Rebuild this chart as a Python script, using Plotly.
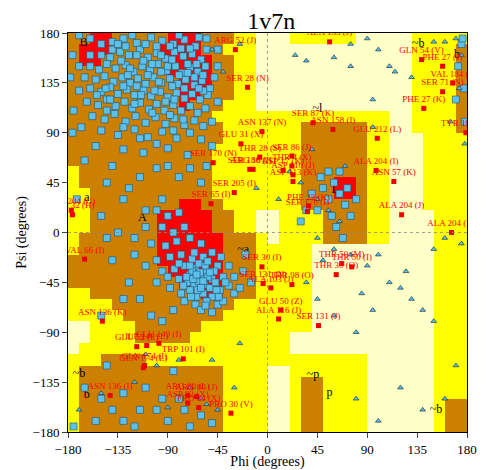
import plotly.graph_objects as go

# region grid, 10 degree cells, rows psi 170 .. -180, cols phi -180 .. 170
# . = outside, y = generous, o = allowed, r = core
grid_left = [
    "oorrooooorrroooyy", "orrroooorrrrooyyy", "orroooooorrrrooyy",
    "ooooooooorrrrooyy", "oooooooooorrrooyy", "oooooooooorroooyy",
    "ooooooooooroooyyy", "oooooooooooooyyyy", "ooooooooooooooyyy",
    "ooooooooooooooyyy", "oooooooooooooyyyy", "oooooooooooooyyyy",
    "yooooooooooooyyyy", "yooooooooooooyyyy", "yyoooooooooooyyyy",
    "yyoooooooorrooyyy", "yyoooooorrrrrooyy", "yyoooooorrrrrooyy",
    "yooooooorrrrrrooo", "yooooooorrrrrrooo", "oooooooorrrrrrooo",
    "ooooooooorrrrrooo", "oooooooooorrrrooo", "yyoooooooooorrooo",
    "yyyyoooooooooooyy", "yyyyyoooooooooyyy", "..yyyyooooooyyyyy",
    "..yyyyoooooyyyyyy", ".yyyyyyyyyyyyyyyy", "yyyooooyyyyyyyyyy",
    "yoooooooooooooyyy", "yoooooooooooooyyy", "yoooooooooooooyyy",
    "yoooooooooooooyyy", "yoooooooooooooyyy", "yoooooooooooooyyy",
]
grid_right = [
    "...yyyyyy.....yyyyy", "..............yyyyo", "..............yyyyo",
    "..............yyyyo", "..............yyyyo", "..............yyyyo",
    "..............yyyyo", "yyyyyyyyyyyy..yyyyo", "yyyyooooooyy..yyyyo",
    "yyyyooooooyy...yyyy", "yyyyooooooyy...yyyy", "yyyyooooooyy...yyyy",
    "yyyyooooooyy...yyyy", "yyyyooorroyy...yyyy", "yyyyooorroyy...yyyy",
    "yyyyooooooyy...yyyy", "..yyyyooooyy....yyy", "..yyyyooooyy....yyy",
    "y.yyyyooooyy....yyy", "yyyyy...........yyy", "yyyyy...........yyy",
    "yyyyy...........yyy", "yyyyy...........yyy", "yyyyy...........yyy",
    "yyyyy...........yyy", "yyyyy...........yyy", "yyyyy...........yyy",
    "yyy.............yyy", "yyy.............yyy", "yyyyyyyyyy......yyy",
    "y..yyyyyyy......yyy", "y..yooyyyy......yyy", "y..yooyyyy......yyy",
    "y..yooyyyy......yoo", "y..yooyyyy......yoo", "y..yooyyyy......yoo",
]
psi_rows = list(range(170, -190, -10))
phi_cols = list(range(-180, 180, 10))

beta = [(-170,178),(-160,175),(-55,175),(-150,170),(-140,172),(-130,175),(-118,171),(-105,176),(-95,173),
    (-85,170),(-75,174),(-65,168),(-150,160),(-142,158),(-133,163),(-125,160),(-115,165),(-108,158),
    (-100,162),(-92,157),(-84,163),(-76,159),(-68,161),(-60,156),(-55,165),(-160,150),(-152,147),
    (-145,152),(-137,148),(-128,151),(-121,145),(-113,150),(-106,147),(-99,152),(-91,146),(-83,150),
    (-77,144),(-70,149),(-63,145),(-56,150),(-48,140),(-165,140),(-155,138),(-147,141),(-139,136),
    (-131,140),(-124,135),(-117,139),(-110,134),(-103,140),(-96,135),(-88,139),(-81,134),(-74,138),
    (-66,133),(-59,137),(-52,130),(-170,128),(-160,130),(-150,127),(-142,131),(-135,125),(-127,129),
    (-120,124),(-112,128),(-105,123),(-97,127),(-90,122),(-82,126),(-75,121),(-68,125),(-61,120),
    (-54,124),(-45,118),(-163,118),(-153,115),(-145,120),(-137,114),(-129,118),(-122,112),(-115,117),
    (-107,111),(-100,116),(-93,110),(-85,115),(-78,110),(-70,114),(-63,108),(-56,112),(-158,105),
    (-147,102),(-138,107),(-128,100),(-119,105),(-110,99),(-101,104),(-92,98),(-84,103),(-75,97),
    (-66,101),(-58,96),(-150,92),(-135,88),(-120,93),(-108,86),(-95,91),(-82,85),(-70,90),(-60,84),
    (-155,78),(-130,75),(-112,72),(-90,76),(-72,70),(-50,78),(-165,65),(-140,60),(-100,58),(-80,50),
    (-60,45),(-125,40),(-95,30),(-150,15),(-110,20),(-128,168),(-112,155),(-96,145),(-88,168),
    (-72,152),(-118,132),(-102,128),(-86,132),(-132,155),(-140,165),(-80,142),(-92,118),(-108,142),
    (-124,148),(-66,140),(-75,130),(-58,128),(-146,130),(-154,124),(-170,150),(-175,110),(-168,95),
    (-50,100),(-45,150),(-45,165),(-135,170),(-122,178),(-100,168),(-80,178),(-62,176),(-110,170),
    (-90,150),(-70,166),(-118,160),(-104,152),(-86,156),(-126,142),(-96,160),(-78,166),(-64,152),
    (-58,142),(-130,132),(-114,124),(-98,136),(-84,120),(-72,144),(-62,130),(-142,120),(-120,116),
    (-104,108),(-88,106),(-76,102),(-160,160),(-145,110),(-130,95),(-115,85),(-100,80),(-85,92),
    (-176,160),(-178,140),(-176,90),(-172,30),(-145,45),(-115,50),(-90,60),(-70,58),(-55,60),
    (175,170),(172,150),(177,130),(170,120),(178,100),(176,175)]
alpha = [(-100,20),(-90,15),(-80,18),(-110,5),(-95,5),(-85,0),(-75,5),(-120,-5),(-105,-10),(-92,-12),
    (-82,-8),(-70,-5),(-60,-10),(-100,-25),(-88,-22),(-78,-20),(-68,-24),(-58,-22),(-50,-18),(-95,-35),
    (-84,-33),(-75,-30),(-70,-38),(-65,-32),(-60,-40),(-55,-35),(-50,-42),(-45,-30),(-80,-42),(-72,-45),
    (-66,-48),(-62,-44),(-57,-47),(-52,-50),(-47,-45),(-40,-40),(-88,-50),(-78,-55),(-70,-52),(-64,-58),
    (-58,-55),(-50,-58),(-43,-52),(-35,-48),(-75,-62),(-65,-65),(-55,-62),(-45,-65),(-60,-70),(-50,-72),
    (-40,-62),(-30,-55),(-25,-50),(-135,0),(-140,-25),(-125,-45),(-115,-60),(-130,-60),(-150,-75),
    (-105,-75),(-95,-80),(-85,-70),(-68,-35),(-62,-28),(-56,-30),(-73,-40),(-67,-42),(-61,-36),(-54,-40),
    (-63,-52),(-69,-58),(-48,-35),(-42,-22),(-35,-30),(-30,-40),(-22,-35),(-20,-20),(-15,-45),(-100,-45),
    (-110,-30),(-120,-20),(-130,30),(-145,-5),(-64,-38),(-58,-44),(-52,-36),(-70,-30),(-76,-48),
    (-46,-52),(-38,-45),(-60,-50),(-54,-26),(-66,-18),(-80,-28),(-90,-40),(-56,-66),(-44,-58),
    (-150,-150),(-140,-160),(-130,-170),(-120,-175),(-155,-170),(-100,-160),(-90,-170),(-110,-140),
    (-70,-175),(-60,-165),(-80,-150),(-130,-145),(-165,-140),(-145,-120),(-175,-175),(-115,-160),
    (-95,-150),(-75,-160),(-50,-172),(-85,-125),
    (50,40),(55,30),(60,45),(65,35),(70,25),(45,20),(58,15),(62,5),(68,-5),(75,15),(80,30),(48,50),
    (55,55),(65,55),(72,40),(40,35),(35,20),(30,10)]
gly = [(-50,165),(-40,145),(-25,170),(25,160),(35,155),(60,158),(75,170),(90,175),(100,165),(110,150),
    (115,145),(130,140),(150,172),(160,172),(170,175),(175,160),(173,130),(165,100),(178,80),(95,120),
    (75,150),(40,75),(20,55),(30,45),(45,30),(55,20),(65,10),(45,-5),(60,-15),(50,-25),(75,-20),(90,-30),
    (100,-20),(110,-45),(120,-50),(130,-60),(140,-70),(150,-80),(125,-35),(85,-55),(95,-70),(80,-90),
    (60,-75),(45,-60),(35,-45),(150,-15),(160,-5),(175,-10),(170,-120),(160,-150),(140,-160),(80,-150),
    (100,-170),(120,-140),(-25,-100),(-50,-115),(-80,-115),(-100,-120),(-120,-135),(-150,-145),
    (-170,-160),(-60,-150),(-55,-155),(-30,-140),(-110,-110),(-10,40),(10,30),(70,60),(95,95),
    (-90,-158),(-70,-140),(-45,-160)]

outliers = [
    (-29,165,"ARG 52 (J)"),(-18,131,"SER 28 (N)"),(56,172,"ALA 133 (J)"),(139,156,"GLN 54 (V)"),
    (158,150,"PHE 27 (J)"),(167,135,"VAL 184 (I)"),(158,127,"SER 71 (N)"),(141,112,"PHE 27 (K)"),
    (179,90,"TYR 191 (M)"),(-5,91,"ASN 137 (N)"),(-24,80,"GLU 31 (X)"),(41,99,"SER 87 (K)"),
    (59,93,"ASN 158 (I)"),(99,85,"GLU 212 (L)"),(-49,63,"SER 170 (N)"),(-7,68,"THR 28 (S)"),
    (22,69,"SER 86 (J)"),(-16,57,"SER 186 (J)"),(-13,57,"ARG 18 (K)"),(14,56,"ASP 17 (K)"),
    (22,60,"THR 4 (X)"),(23,52,"ASP 116 (J)"),(23,46,"ASP 113 (K)"),(-30,36,"SER 205 (I)"),
    (-51,26,"SER 65 (I)"),(98,56,"ALA 204 (I)"),(114,46,"ASN 57 (K)"),(121,16,"ALA 204 (J)"),
    (166,0,"ALA 204 (H)"),(36,19,"SER 170 (I)"),(37,24,"PHE 23 (K)"),(-177,20,"ALA 204 (C)"),
    (-176,16,"ALA 32 (H)"),(-165,-24,"VAL 66 (I)"),(-5,-31,"SER 30 (I)"),(-4,-46,"SER 131 (N)"),
    (3,-50,"ALA 103 (J)"),(22,-47,"THR 98 (O)"),(67,-28,"THR 50 (M)"),(62,-38,"THR 30 (O)"),
    (76,-31,"THR 50 (I)"),(12,-70,"GLU 50 (Z)"),(10,-78,"ALA 116 (J)"),(46,-84,"SER 131 (J)"),
    (-149,-80,"ASN 136 (K)"),(-118,-103,"GLU 52 (L)"),(-109,-102,"ILE 149 (L)"),(-98,-100,"GLU 149 (I)"),
    (-76,-114,"TRP 101 (I)"),(-112,-122,"GLN 174 (L)"),(-111,-120,"GLN 174 (I)"),(-142,-147,"ASN 136 (I)"),
    (-72,-147,"ARG 80 (L)"),(-64,-148,"ARG 80 (J)"),(-72,-154,"ASP 82 (X)"),(-62,-158,"PRO 84 (X)"),
    (-33,-163,"PRO 30 (V)")]

region_labels = [(-166,171,"B"),(-163,31,"a"),(-113,13,"A"),(-163,-147,"b"),(136,170,"~b"),
    (171,160,"b"),(45,111,"~l"),(61,38,"L"),(41,-129,"~p"),(56,-145,"p"),(-22,-16,"~a"),
    (-170,-128,"~b"),(152,-160,"~b")]

code = {".": 0, "y": 1, "o": 2, "r": 3}
z = [[code[ch] for ch in (l + r)] for l, r in zip(grid_left, grid_right)]

pale, yel, brown, red = "#FFFFC8", "#FFFF00", "#CC8000", "#FF0000"
cs = [[0, pale], [0.166, pale], [0.167, yel], [0.5, yel],
      [0.5, brown], [0.833, brown], [0.834, red], [1, red]]

fig = go.Figure()
fig.add_trace(go.Heatmap(z=z, x=[p + 5 for p in phi_cols], y=[p + 5 for p in psi_rows],
                         colorscale=cs, zmin=0, zmax=3, showscale=False, hoverinfo="skip"))
fig.add_trace(go.Scatter(x=[p[0] for p in region_labels], y=[p[1] for p in region_labels],
                         mode="text", text=[p[2] for p in region_labels],
                         textfont=dict(family="Liberation Serif", size=12, color="black")))
fig.add_trace(go.Scatter(x=[p[0] for p in beta + alpha], y=[p[1] for p in beta + alpha], mode="markers",
                         marker=dict(symbol="square", size=7, color="#5BC0EB",
                                     line=dict(color="#24506e", width=0.6))))
fig.add_trace(go.Scatter(x=[p[0] for p in gly], y=[p[1] for p in gly], mode="markers",
                         marker=dict(symbol="triangle-up", size=5, color="#5BC0EB",
                                     line=dict(color="#1c3a50", width=0.7))))
fig.add_trace(go.Scatter(x=[p[0] for p in outliers], y=[p[1] for p in outliers], mode="markers+text",
                         text=[p[2] for p in outliers], textposition="top center",
                         textfont=dict(family="Liberation Serif", size=9, color="#FF0000"),
                         marker=dict(symbol="square", size=5, color="#EE0000")))

fig.add_hline(y=0, line=dict(color="#888", width=0.8, dash="dot"))
fig.add_vline(x=0, line=dict(color="#888", width=0.8, dash="dot"))

ticks = [-180, -135, -90, -45, 0, 45, 90, 135, 180]
axis = dict(range=[-180, 180], tickvals=ticks, ticks="outside", ticklen=5, showgrid=False,
            zeroline=False, showline=True, linecolor="black", mirror=True, automargin=False,
            tickfont=dict(family="Liberation Serif", size=13, color="black"))
# page body adds an 8px offset, so the figure is a bit smaller than the window
fig.update_layout(
    width=492, height=462, showlegend=False, plot_bgcolor="white", paper_bgcolor="white",
    margin=dict(l=60, r=33, t=25, b=38, autoexpand=False),
    title=dict(text="1v7n", x=0.535, y=0.99, yanchor="top",
               font=dict(family="Liberation Serif", size=24, color="black")),
    xaxis=dict(axis, title=dict(text="Phi (degrees)", standoff=2,
                                font=dict(family="Liberation Serif", size=14, color="black"))),
    yaxis=dict(axis, title=dict(text="Psi (degrees)", standoff=2,
                                font=dict(family="Liberation Serif", size=14, color="black"))),
)
fig.write_html("out.html")
